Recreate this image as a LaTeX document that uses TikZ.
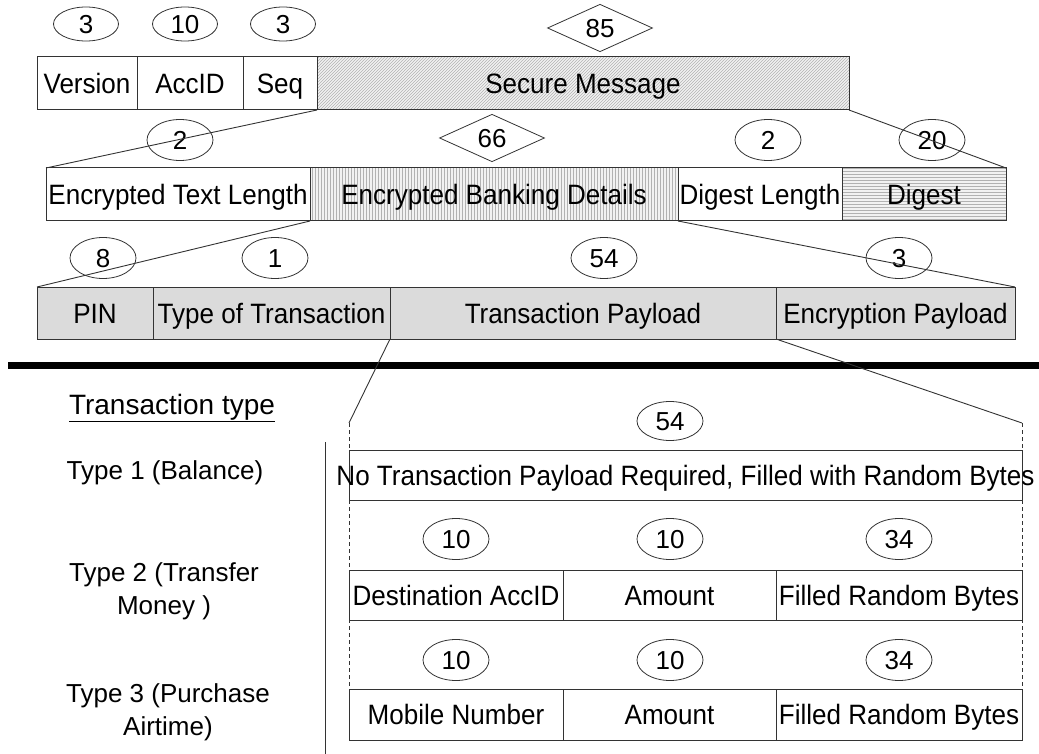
\documentclass[tikz,border=0pt]{standalone}
\usepackage{fontspec}
\setmainfont{Liberation Sans}
\newfontfamily\boxfont[FakeStretch=0.93]{Liberation Sans}
\usetikzlibrary{shapes.geometric,patterns}
\begin{document}
\begin{tikzpicture}[x=1pt,y=-1pt,
  every node/.style={font=\fontsize{26}{33}\selectfont},
  fld/.style={draw=black!80, line width=1pt, inner sep=0pt, outer sep=0pt, minimum height=53pt, text height=20pt, text depth=0pt, font=\boxfont\fontsize{28}{33}\selectfont},
  plain/.style={fld, fill=white},
  grey/.style={fld, fill=gray!28},
  diag/.style={fld, preaction={fill=gray!10}, pattern=north east lines, pattern color=gray!60},
  vert/.style={fld, preaction={fill=gray!10}, pattern=vertical lines, pattern color=gray!60},
  horz/.style={fld, preaction={fill=gray!10}, pattern=horizontal lines, pattern color=gray!60},
  num/.style={ellipse, draw=black!80, line width=0.8pt, inner sep=0pt, minimum width=66pt, minimum height=41pt, text height=18.6pt, text depth=0pt, font=\fontsize{26}{30}\selectfont},
  numtop/.style={num, minimum width=65pt, minimum height=34pt},
  dia/.style={diamond, draw=black!80, line width=0.8pt, inner sep=0pt, minimum width=105pt, minimum height=42pt, text height=18.6pt, text depth=0pt, font=\fontsize{26}{30}\selectfont},
  conn/.style={draw=black!80, line width=0.9pt},
  dashline/.style={draw=black!80, line width=0.8pt, dash pattern=on 4pt off 3pt},
  lbl/.style={align=center, inner sep=0pt}
]
\useasboundingbox (0,0) rectangle (1039,754);

% ---- Row 1
\node[plain, minimum width=100pt] (ver) at (87,83.5) {Version};
\node[plain, minimum width=106pt] (acc) at (190,83.5) {AccID};
\node[plain, minimum width=74pt] (seq) at (280,83.5) {Seq};
\node[diag, minimum width=532pt] (sec) at (583,83.5) {Secure Message};
\node[numtop] (n1) at (86,24) {3};
\node[numtop] (n2) at (185,24) {10};
\node[numtop] (n3) at (283,24) {3};
\node[dia] (d85) at (600,28) {85};

% ---- Row 2
\node[plain, minimum width=264pt] (etl) at (178,194.5) {Encrypted Text Length};
\node[vert, minimum width=368pt] (ebd) at (494,194.5) {Encrypted Banking Details};
\node[plain, minimum width=164pt] (dgl) at (760,194.5) {Digest Length};
\node[horz, minimum width=164pt] (dg) at (924,194.5) {Digest};
\node[num] (m1) at (180,140) {2};
\node[dia] (d66) at (492,138) {66};
\node[num] (m3) at (768,140) {2};
\node[num] (m4) at (932,140) {20};

% ---- Row 3
\node[grey, minimum width=116pt, minimum height=52pt] (pin) at (95,313) {PIN};
\node[grey, minimum width=237pt, minimum height=52pt] (tot) at (271.5,313) {Type of Transaction};
\node[grey, minimum width=386pt, minimum height=52pt] (tp) at (583,313) {Transaction Payload};
\node[grey, minimum width=239pt, minimum height=52pt] (ep) at (895.5,313) {Encryption Payload};
\node[num] (k1) at (103,258) {8};
\node[num] (k2) at (275,258) {1};
\node[num] (k3) at (604,258) {54};
\node[num] (k4) at (899,258) {3};

% ---- separator
\draw[line width=7pt] (8,365) -- (1039,365);

% ---- lower part
\coordinate (dl) at (349,423);
\coordinate (dr) at (1022,423);
\coordinate (dlb) at (349,740);
\coordinate (drb) at (1022,740);
\draw[dashline] (dl) -- (dlb);
\draw[dashline] (dr) -- (drb);

\node[plain, minimum width=673pt, minimum height=50pt] (b1) at (685.5,475) {};
\node[inner sep=0pt, text height=20pt, text depth=0pt, font=\boxfont\fontsize{28}{33}\selectfont] (b1t) at (b1.center) {No Transaction Payload Required, Filled with Random Bytes};
\node[num, minimum height=39pt] (p0) at (670,421) {54};

\node[plain, minimum width=214pt, minimum height=50pt] (b21) at (456,595) {Destination AccID};
\node[plain, minimum width=213pt, minimum height=50pt] (b22) at (669.5,595) {Amount};
\node[plain, minimum width=246pt, minimum height=50pt] (b23) at (899,595) {Filled Random Bytes};
\node[num] (q1) at (456,539) {10};
\node[num] (q2) at (670,539) {10};
\node[num] (q3) at (899,539) {34};

\node[plain, minimum width=214pt, minimum height=51pt] (b31) at (456,714.5) {Mobile Number};
\node[plain, minimum width=213pt, minimum height=51pt] (b32) at (669.5,714.5) {Amount};
\node[plain, minimum width=246pt, minimum height=51pt] (b33) at (899,714.5) {Filled Random Bytes};
\node[num] (r1) at (456,660) {10};
\node[num] (r2) at (670,660) {10};
\node[num] (r3) at (899,660) {34};

% left labels
\node[lbl, font=\fontsize{28}{33}\selectfont] (tt) at (172,408) {\underline{Transaction type}};
\node[lbl] (t1) at (165,473) {Type 1 (Balance)};
\node[lbl] (t2) at (164,591) {Type 2 (Transfer\\Money )};
\node[lbl] (t3) at (168,712) {Type 3 (Purchase\\Airtime)};
\coordinate (vt) at (325,442);
\coordinate (vb) at (325,754);
\draw[conn] (vt) -- (vb);

% ---- connectors
\draw[conn] (seq.south east) -- (etl.north west);
\draw[conn] (sec.south east) -- (dg.north east);
\draw[conn] (etl.south east) -- (pin.north west);
\draw[conn] (ebd.south east) -- (ep.north east);
\draw[conn] (tot.south east) -- (dl);
\draw[conn] (tp.south east) -- (dr);
\end{tikzpicture}
\end{document}
